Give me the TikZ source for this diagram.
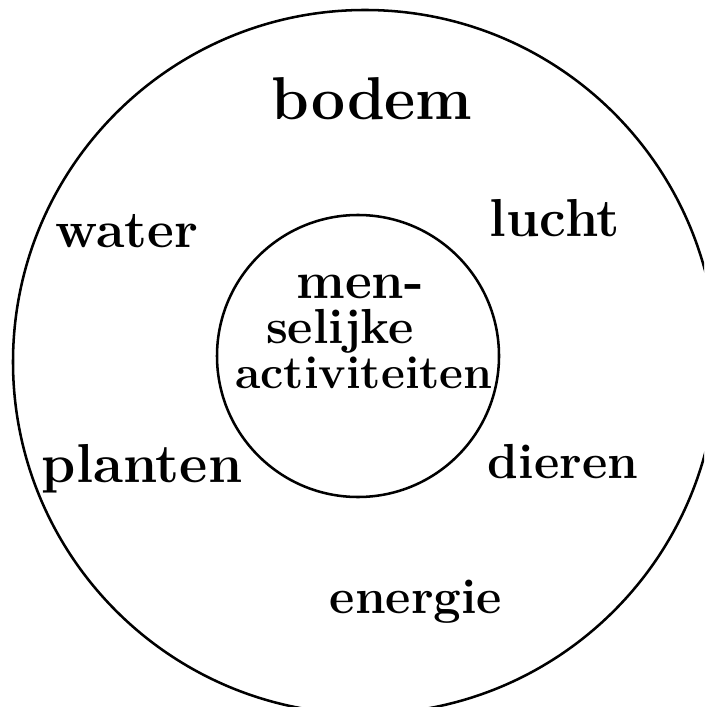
\documentclass[tikz,border=0pt]{standalone}
\usetikzlibrary{positioning}

\begin{document}
\begin{tikzpicture}[
  x=0.025cm, y=-0.025cm,
  ring/.style={draw=black, line width=1.8pt},
  word/.style={anchor=base, inner sep=0pt, font=\bfseries\fontsize{36}{40}\selectfont},
  core/.style={anchor=base, inner sep=0pt, align=center,
    font=\bfseries\fontsize{35}{32}\selectfont}
]
\useasboundingbox (0,0) rectangle (704,707);
\clip (0,0) rectangle (704,707);

% The two circles.
\node[ring, circle, minimum size=704*0.025cm, inner sep=0pt] (outer) at (365,362) {};
\node[ring, circle, minimum size=282*0.025cm, inner sep=0pt] (inner) at (358,356) {};

% Centre: human activities.
\node[core] (activ) at (364,388)
  {{\fontsize{37}{32}\selectfont men-\kern2mm}\\
   selijke\kern12mm\\
   {\fontsize{33}{32}\selectfont activiteiten}};

% Surrounding elements.
\node[word, font=\bfseries\fontsize{43}{47}\selectfont] (bodem) at (372,120) {bodem};
\node[word, font=\bfseries\fontsize{38}{42}\selectfont] (lucht) at (555,237) {lucht};
\node[word, font=\bfseries\fontsize{37}{41}\selectfont] (water) at (127,248) {water};
\node[word, font=\bfseries\fontsize{39}{43}\selectfont] (planten) at (142,482) {planten};
\node[word, font=\bfseries\fontsize{35}{39}\selectfont] (dieren) at (563,478) {dieren};
\node[word, font=\bfseries\fontsize{35}{39}\selectfont] (energie) at (416,613) {energie};

\end{tikzpicture}
\end{document}
